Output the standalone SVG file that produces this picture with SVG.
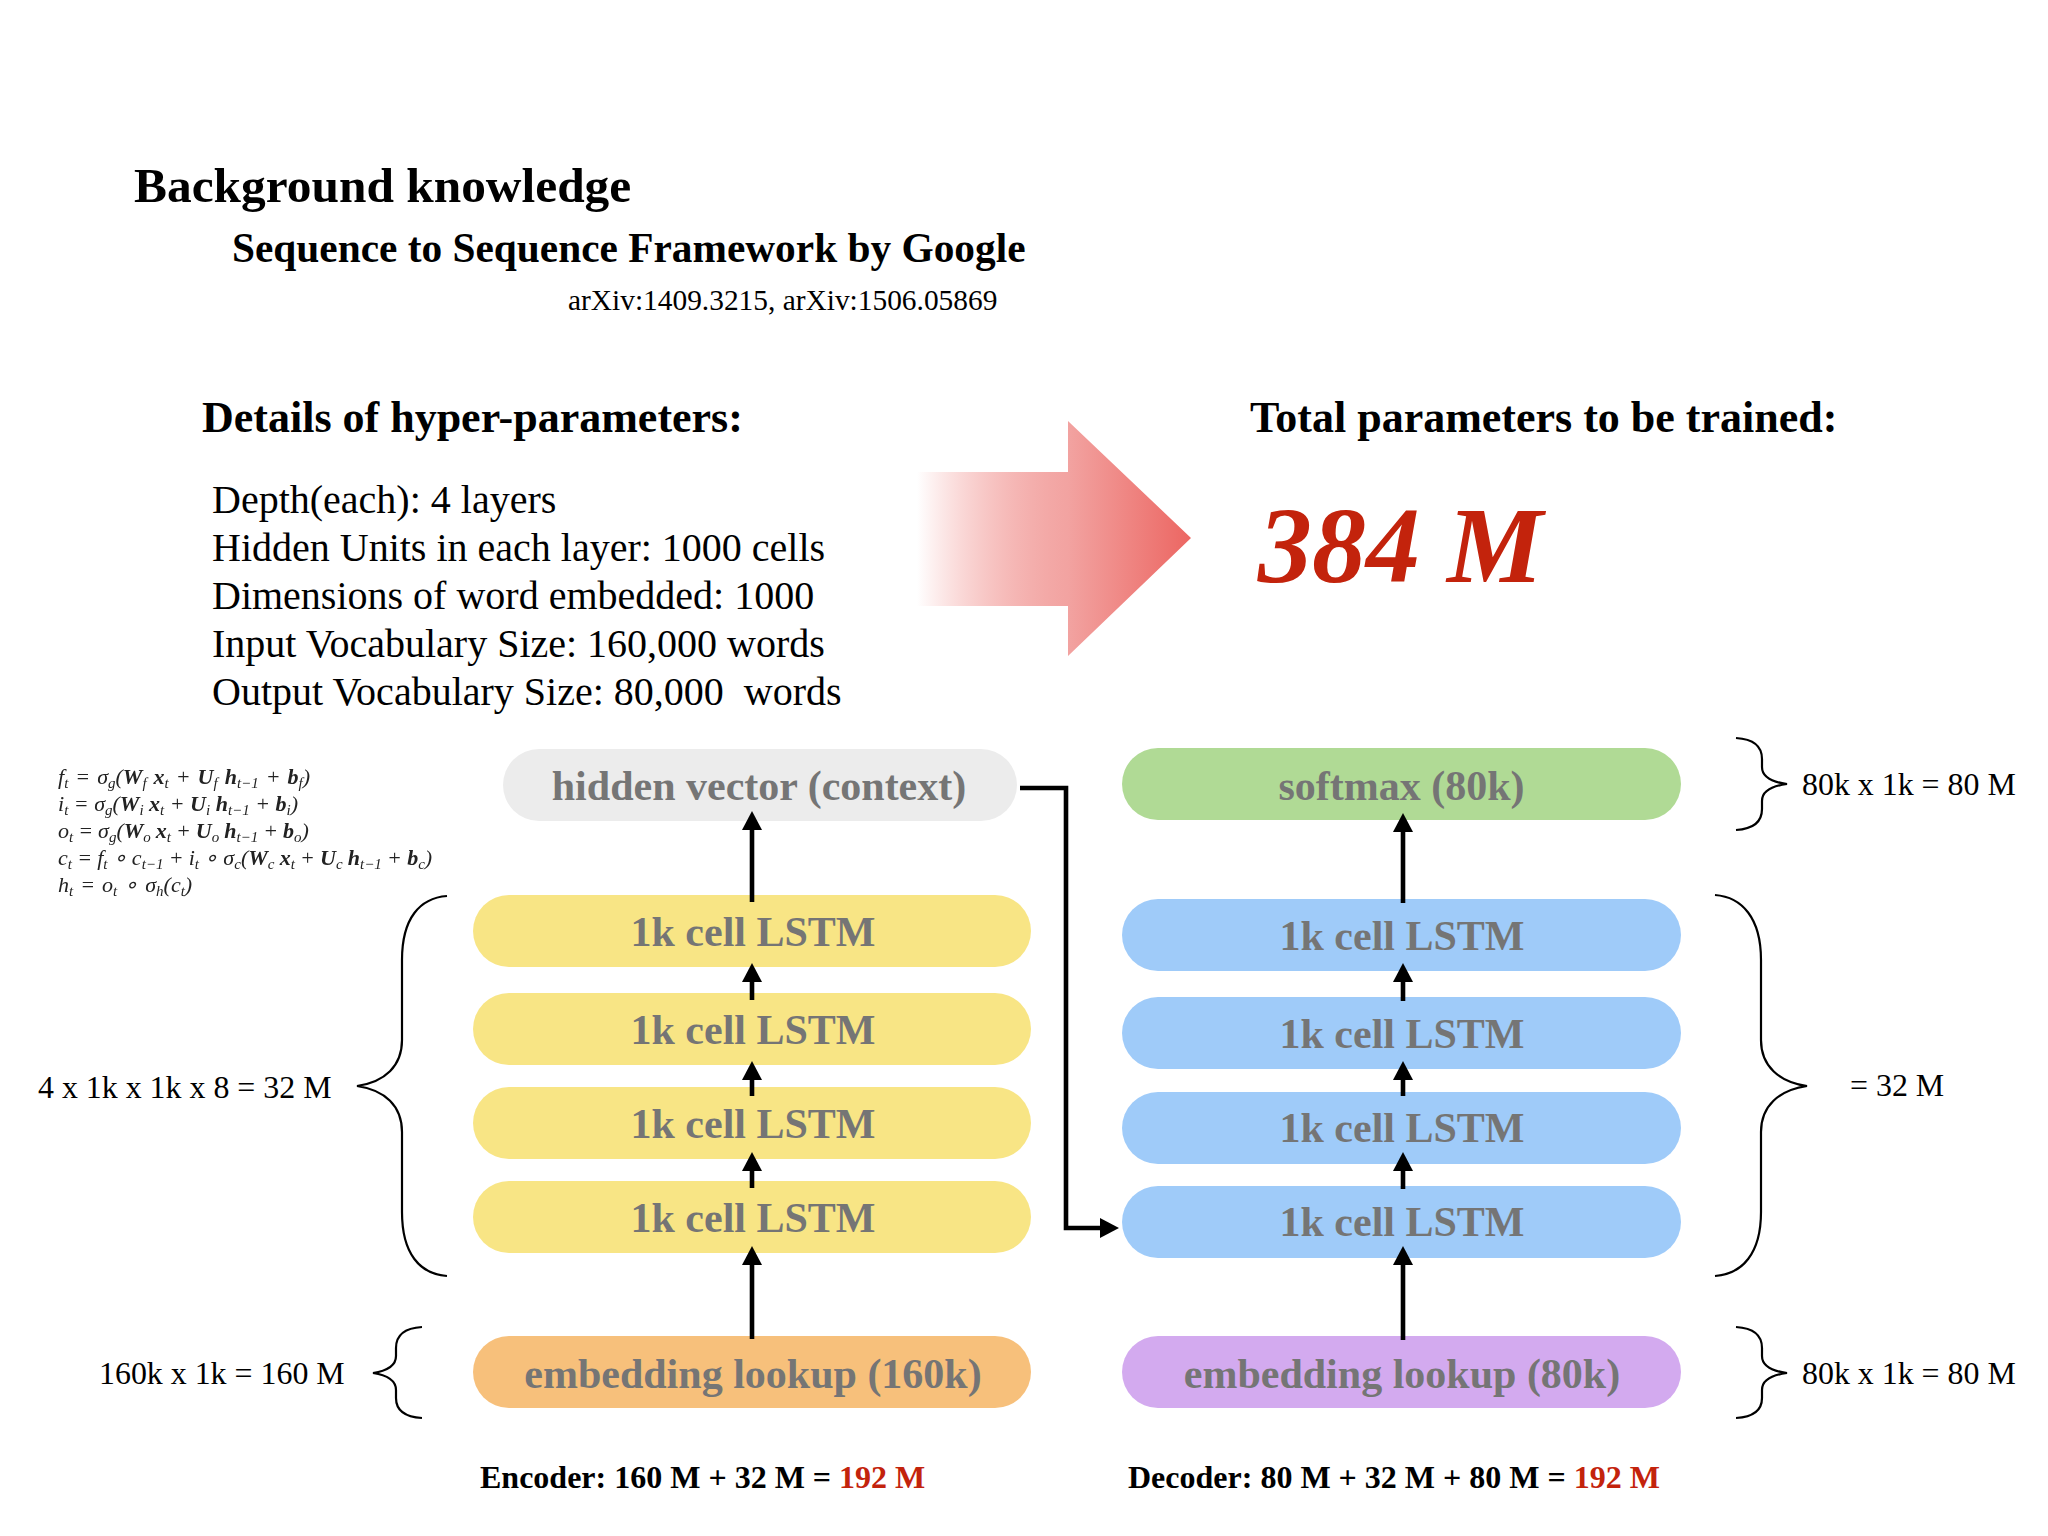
<svg xmlns="http://www.w3.org/2000/svg" width="2048" height="1536" viewBox="0 0 2048 1536">
<style>
text{font-family:"Liberation Serif","Times New Roman",serif;fill:#000;white-space:pre}
.h1{font-size:49.4px;font-weight:bold}
.h2{font-size:41.35px;font-weight:bold}
.h3{font-size:44px;font-weight:bold}
.p{font-size:40px}
.arx{font-size:29.4px}
.note{font-size:31.9px}
.sum{font-size:32px;font-weight:bold}
.red{fill:#c3230c}
.lab{font-size:42px;font-weight:bold;fill:#757575;text-anchor:middle}
.eq{font-size:22px;fill:#222;font-style:italic;filter:url(#soft)}
.eq .s{font-size:15px}
.eq .v{font-weight:bold}
.conn{fill:none;stroke:#000;stroke-width:4.6}
.brace{fill:none;stroke:#000;stroke-width:2.2}
</style>
<defs>
<linearGradient id="fade" gradientUnits="userSpaceOnUse" x1="917" y1="0" x2="1191" y2="0">
<stop offset="0" stop-color="#ec6a66" stop-opacity="0"/>
<stop offset="0.55" stop-color="#f2a3a1"/>
<stop offset="1" stop-color="#ec6662"/>
</linearGradient>
<filter id="soft"><feGaussianBlur stdDeviation="0.7"/></filter>
<marker id="ah" markerUnits="userSpaceOnUse" markerWidth="20" markerHeight="20" refX="9" refY="10" orient="auto"><path d="M0 0L19 10L0 20z" fill="#000"/></marker>
</defs>
<g id="titles">
<text class="h1" x="134" y="202">Background knowledge</text>
<text class="h2" x="232" y="262">Sequence to Sequence Framework by Google</text>
<text class="arx" x="568" y="310">arXiv:1409.3215, arXiv:1506.05869</text>
<text class="h3" x="202" y="432">Details of hyper-parameters:</text>
<text class="h3" x="1250" y="432">Total parameters to be trained:</text>
</g>
<g id="details">
<text class="p" x="212" y="513">Depth(each): 4 layers</text>
<text class="p" x="212" y="561">Hidden Units in each layer: 1000 cells</text>
<text class="p" x="212" y="609">Dimensions of word embedded: 1000</text>
<text class="p" x="212" y="657">Input Vocabulary Size: 160,000 words</text>
<text class="p" x="212" y="705">Output Vocabulary Size: 80,000  words</text>
</g>
<g id="big-arrow"><polygon points="917,472 1068,472 1068,421 1191,538 1068,656 1068,606 917,606" fill="url(#fade)"/></g>
<g id="total"><text x="1258" y="582" font-size="108" font-weight="bold" font-style="italic" class="red">384 M</text></g>
<g id="formula">
<text class="eq" x="58" y="784" word-spacing="1.5">f<tspan dy="4" class="s">t</tspan><tspan dy="-4"> = σ</tspan><tspan dy="4" class="s">g</tspan><tspan dy="-4">(</tspan><tspan class="v">W</tspan><tspan dy="4" class="s">f</tspan><tspan dy="-4" class="v"> x</tspan><tspan dy="4" class="s">t</tspan><tspan dy="-4"> + </tspan><tspan class="v">U</tspan><tspan dy="4" class="s">f</tspan><tspan dy="-4" class="v"> h</tspan><tspan dy="4" class="s">t−1</tspan><tspan dy="-4"> + </tspan><tspan class="v">b</tspan><tspan dy="4" class="s">f</tspan><tspan dy="-4">)</tspan></text>
<text class="eq" x="58" y="811">i<tspan dy="4" class="s">t</tspan><tspan dy="-4"> = σ</tspan><tspan dy="4" class="s">g</tspan><tspan dy="-4">(</tspan><tspan class="v">W</tspan><tspan dy="4" class="s">i</tspan><tspan dy="-4" class="v"> x</tspan><tspan dy="4" class="s">t</tspan><tspan dy="-4"> + </tspan><tspan class="v">U</tspan><tspan dy="4" class="s">i</tspan><tspan dy="-4" class="v"> h</tspan><tspan dy="4" class="s">t−1</tspan><tspan dy="-4"> + </tspan><tspan class="v">b</tspan><tspan dy="4" class="s">i</tspan><tspan dy="-4">)</tspan></text>
<text class="eq" x="58" y="838" word-spacing="-0.5">o<tspan dy="4" class="s">t</tspan><tspan dy="-4"> = σ</tspan><tspan dy="4" class="s">g</tspan><tspan dy="-4">(</tspan><tspan class="v">W</tspan><tspan dy="4" class="s">o</tspan><tspan dy="-4" class="v"> x</tspan><tspan dy="4" class="s">t</tspan><tspan dy="-4"> + </tspan><tspan class="v">U</tspan><tspan dy="4" class="s">o</tspan><tspan dy="-4" class="v"> h</tspan><tspan dy="4" class="s">t−1</tspan><tspan dy="-4"> + </tspan><tspan class="v">b</tspan><tspan dy="4" class="s">o</tspan><tspan dy="-4">)</tspan></text>
<text class="eq" x="58" y="865" word-spacing="-0.3">c<tspan dy="4" class="s">t</tspan><tspan dy="-4"> = f</tspan><tspan dy="4" class="s">t</tspan><tspan dy="-4"> ∘ c</tspan><tspan dy="4" class="s">t−1</tspan><tspan dy="-4"> + i</tspan><tspan dy="4" class="s">t</tspan><tspan dy="-4"> ∘ σ</tspan><tspan dy="4" class="s">c</tspan><tspan dy="-4">(</tspan><tspan class="v">W</tspan><tspan dy="4" class="s">c</tspan><tspan dy="-4" class="v"> x</tspan><tspan dy="4" class="s">t</tspan><tspan dy="-4"> + </tspan><tspan class="v">U</tspan><tspan dy="4" class="s">c</tspan><tspan dy="-4" class="v"> h</tspan><tspan dy="4" class="s">t−1</tspan><tspan dy="-4"> + </tspan><tspan class="v">b</tspan><tspan dy="4" class="s">c</tspan><tspan dy="-4">)</tspan></text>
<text class="eq" x="58" y="892" word-spacing="1.5">h<tspan dy="4" class="s">t</tspan><tspan dy="-4"> = o</tspan><tspan dy="4" class="s">t</tspan><tspan dy="-4"> ∘ σ</tspan><tspan dy="4" class="s">h</tspan><tspan dy="-4">(c</tspan><tspan dy="4" class="s">t</tspan><tspan dy="-4">)</tspan></text>
</g>
<g id="hidden"><rect x="503" y="749" width="514" height="72" rx="36" fill="#ececec"/><text class="lab" x="759" y="800">hidden vector (context)</text></g>
<g id="enc4"><rect x="473" y="895" width="558" height="72" rx="36" fill="#f8e585"/><text class="lab" x="753" y="946">1k cell LSTM</text></g>
<g id="enc3"><rect x="473" y="993" width="558" height="72" rx="36" fill="#f8e585"/><text class="lab" x="753" y="1044">1k cell LSTM</text></g>
<g id="enc2"><rect x="473" y="1087" width="558" height="72" rx="36" fill="#f8e585"/><text class="lab" x="753" y="1138">1k cell LSTM</text></g>
<g id="enc1"><rect x="473" y="1181" width="558" height="72" rx="36" fill="#f8e585"/><text class="lab" x="753" y="1232">1k cell LSTM</text></g>
<g id="enc-embed"><rect x="473" y="1336" width="558" height="72" rx="36" fill="#f7c07b"/><text class="lab" x="753" y="1387.5">embedding lookup (160k)</text></g>
<g id="softmax"><rect x="1122" y="748" width="559" height="72" rx="36" fill="#b0da95"/><text class="lab" x="1401.5" y="800">softmax (80k)</text></g>
<g id="dec4"><rect x="1122" y="899" width="559" height="72" rx="36" fill="#9fcbf9"/><text class="lab" x="1402" y="949.5">1k cell LSTM</text></g>
<g id="dec3"><rect x="1122" y="997" width="559" height="72" rx="36" fill="#9fcbf9"/><text class="lab" x="1402" y="1047.5">1k cell LSTM</text></g>
<g id="dec2"><rect x="1122" y="1092" width="559" height="72" rx="36" fill="#9fcbf9"/><text class="lab" x="1402" y="1141.5">1k cell LSTM</text></g>
<g id="dec1"><rect x="1122" y="1186" width="559" height="72" rx="36" fill="#9fcbf9"/><text class="lab" x="1402" y="1235.5">1k cell LSTM</text></g>
<g id="dec-embed"><rect x="1122" y="1336" width="559" height="72" rx="36" fill="#d3aaef"/><text class="lab" x="1402" y="1387.5">embedding lookup (80k)</text></g>
<g id="connectors">
<path class="conn" marker-end="url(#ah)" d="M752 902V821"/>
<path class="conn" marker-end="url(#ah)" d="M752 1000V973"/>
<path class="conn" marker-end="url(#ah)" d="M752 1096V1071"/>
<path class="conn" marker-end="url(#ah)" d="M752 1188V1162"/>
<path class="conn" marker-end="url(#ah)" d="M752 1339V1256"/>
<path class="conn" marker-end="url(#ah)" d="M1403 903V823"/>
<path class="conn" marker-end="url(#ah)" d="M1403 1001V973"/>
<path class="conn" marker-end="url(#ah)" d="M1403 1096V1071"/>
<path class="conn" marker-end="url(#ah)" d="M1403 1189V1162"/>
<path class="conn" marker-end="url(#ah)" d="M1403 1340V1256"/>
<path class="conn" marker-end="url(#ah)" d="M1020 788H1066V1228H1109"/>
</g>
<g id="braces">
<path class="brace" d="M447 896C420 898 402 918 402 960V1040C402 1066 385 1082 357 1086C385 1090 402 1106 402 1132V1212C402 1254 420 1274 447 1276"/>
<path class="brace" d="M422 1327C405 1328 396 1335 396 1348V1356C396 1366 386 1371 373 1373C386 1375 396 1380 396 1390V1398C396 1411 405 1417 422 1418"/>
<path class="brace" d="M1736 738C1753 739 1762 746 1762 759V767C1762 777 1772 782 1787 784C1772 786 1762 791 1762 801V809C1762 822 1753 829 1736 830"/>
<path class="brace" d="M1715 895C1742 897 1761 918 1761 960V1040C1761 1066 1779 1082 1807 1086C1779 1090 1761 1106 1761 1132V1212C1761 1254 1742 1274 1715 1276"/>
<path class="brace" d="M1736 1327C1753 1328 1762 1335 1762 1348V1356C1762 1366 1772 1371 1787 1373C1772 1375 1762 1380 1762 1390V1398C1762 1411 1753 1417 1736 1418"/>
</g>
<g id="notes">
<text class="note" x="38" y="1098">4 x 1k x 1k x 8 = 32 M</text>
<text class="note" x="99" y="1384">160k x 1k = 160 M</text>
<text class="note" x="1802" y="795">80k x 1k = 80 M</text>
<text class="note" x="1850" y="1096">= 32 M</text>
<text class="note" x="1802" y="1384">80k x 1k = 80 M</text>
<text class="sum" x="480" y="1488">Encoder: 160 M + 32 M = <tspan class="red">192 M</tspan></text>
<text class="sum" x="1128" y="1488">Decoder: 80 M + 32 M + 80 M = <tspan class="red">192 M</tspan></text>
</g>
</svg>
